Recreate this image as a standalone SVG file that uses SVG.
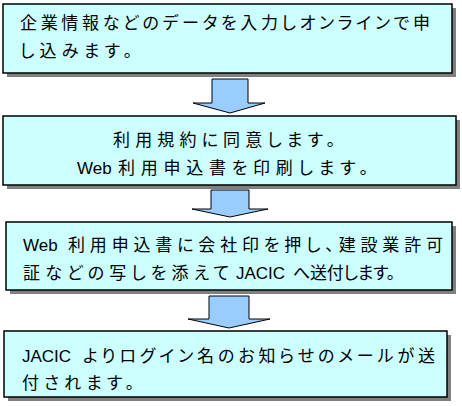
<svg xmlns="http://www.w3.org/2000/svg" width="462" height="406" viewBox="0 0 462 406">
<style>
.sh{fill:#808080}
.bx{fill:#CCFFFF;stroke:#000;stroke-width:1.5}
.ar{fill:#99CCFF;stroke:#000;stroke-width:1}
text{font-family:"Noto Sans CJK JP","Noto Sans",sans-serif;font-size:17px;fill:#000;font-feature-settings:"palt"}
.l{font-family:"Liberation Sans","Noto Sans CJK JP",sans-serif}
</style>
<rect width="462" height="406" fill="#fff"/>
<g id="step1">
<rect class="sh" x="7" y="8" width="449" height="69"/>
<rect class="bx" x="3" y="4" width="449" height="69"/>
<text x="20" y="29" textLength="410" lengthAdjust="spacing">企業情報などのデータを入力しオンラインで申</text>
<text x="20" y="57" textLength="112" lengthAdjust="spacing">し込みます。</text>
</g>
<g id="step2">
<rect class="sh" x="7" y="120" width="453" height="69"/>
<rect class="bx" x="3" y="116" width="453" height="69"/>
<text x="113" y="146" textLength="222" lengthAdjust="spacing">利用規約に同意します。</text>
<text class="l" x="77" y="174">Web</text>
<text x="118" y="174" textLength="250" lengthAdjust="spacing">利用申込書を印刷します。</text>
</g>
<g id="step3">
<rect class="sh" x="10" y="226" width="446" height="68"/>
<rect class="bx" x="6" y="222" width="446" height="68"/>
<text class="l" x="23" y="251">Web</text>
<text x="68" y="251" textLength="375" lengthAdjust="spacing">利用申込書に会社印を押し、建設業許可</text>
<text x="23" y="279" textLength="206" lengthAdjust="spacing">証などの写しを添えて</text>
<text class="l" x="236" y="279">JACIC</text>
<text x="293" y="279" textLength="102" lengthAdjust="spacing">へ送付します。</text>
</g>
<g id="step4">
<rect class="sh" x="8" y="335" width="443" height="66"/>
<rect class="bx" x="4" y="331" width="443" height="66"/>
<text class="l" x="22" y="362">JACIC</text>
<text x="83" y="362" textLength="352" lengthAdjust="spacing">よりログイン名のお知らせのメールが送</text>
<text x="22" y="389" textLength="112" lengthAdjust="spacing">付されます。</text>
</g>
<g id="connectors">
<polygon class="ar" points="212,79 248,79 248,103 265,103 230,113 193,103 212,103"/>
<polygon class="ar" points="211,190 249,190 249,209 268,209 230,217 192,209 211,209"/>
<polygon class="ar" points="209,296 249,296 249,319 270,319 229,328 188,319 209,319"/>
</g>
</svg>
